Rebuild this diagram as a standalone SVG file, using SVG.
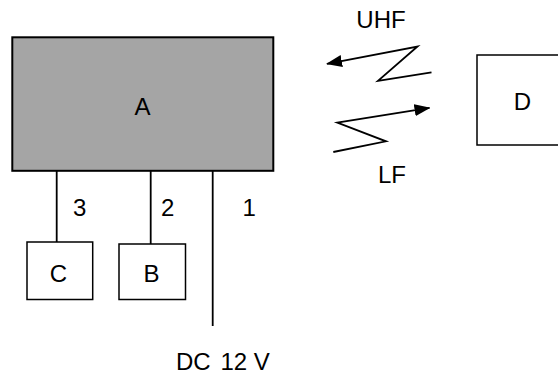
<svg xmlns="http://www.w3.org/2000/svg" width="558" height="376" viewBox="0 0 558 376">
<style>
text{font-family:"Liberation Sans",Arial,sans-serif;font-size:24px;fill:#000}
.box{fill:#fff;stroke:#000;stroke-width:1.5}
.ln{fill:none;stroke:#000;stroke-width:1.8}
</style>
<defs>
<marker id="arr" viewBox="0 0 16 12" refX="15" refY="6" markerWidth="16" markerHeight="12" markerUnits="userSpaceOnUse" orient="auto">
<path d="M0,0 L16,6 L0,12 Z" fill="#000"/>
</marker>
</defs>
<rect width="558" height="376" fill="#fff"/>
<g id="connectors">
<line class="ln" x1="56.7" y1="171" x2="56.7" y2="242"/>
<line class="ln" x1="150.7" y1="171" x2="150.7" y2="244"/>
<line class="ln" x1="212.7" y1="171" x2="212.7" y2="326"/>
<polyline class="ln" points="431.5,72.3 378,80.8 417.5,46.5 327,63.8" marker-end="url(#arr)"/>
<polyline class="ln" points="333.3,152 386,141.3 337.3,122.7 429.5,107.8" marker-end="url(#arr)"/>
<text x="73" y="216">3</text>
<text x="161" y="216">2</text>
<text x="242.4" y="216">1</text>
<text x="381" y="28" text-anchor="middle">UHF</text>
<text x="392" y="183" text-anchor="middle">LF</text>
<text x="176" y="370">DC <tspan x="220.5">12 V</tspan></text>
</g>
<g id="A">
<rect x="12.3" y="37.3" width="261" height="133.5" fill="#a5a5a5" stroke="#000" stroke-width="2"/>
<text x="142.5" y="114.5" text-anchor="middle">A</text>
</g>
<g id="C">
<rect class="box" x="27" y="242" width="65.7" height="57.5"/>
<text x="58.5" y="281.5" text-anchor="middle">C</text>
</g>
<g id="B">
<rect class="box" x="119" y="244" width="66.5" height="55.5"/>
<text x="151.5" y="282" text-anchor="middle">B</text>
</g>
<g id="D">
<rect class="box" x="477" y="55" width="90" height="90"/>
<text x="522.5" y="110" text-anchor="middle">D</text>
</g>
</svg>
